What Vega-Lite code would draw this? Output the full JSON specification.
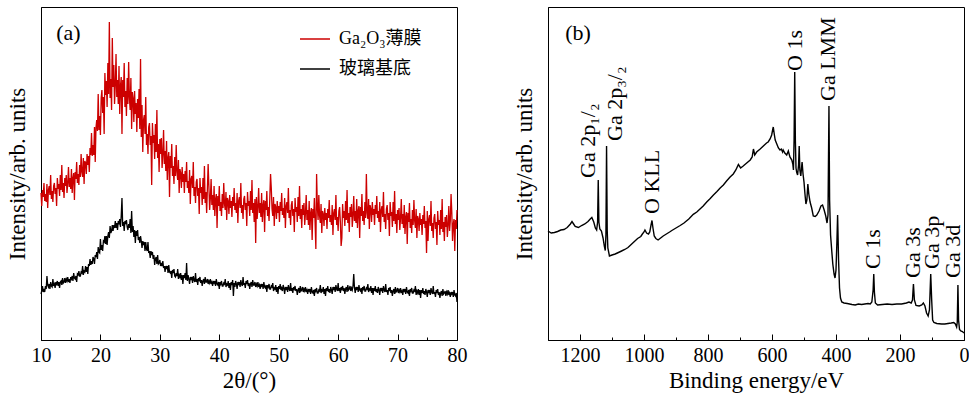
{
"$schema": "https://vega.github.io/schema/vega-lite/v6.json",
"padding": {"left": 5, "top": 6, "right": 0, "bottom": 0},
"spacing": 44,
"config": {
 "view": {"stroke": "#000", "strokeWidth": 1},
 "axis": {"labelFont": "Liberation Serif", "titleFont": "Liberation Serif", "labelFontSize": 20, "titleFontSize": 23, "titleFontWeight": "normal", "labelColor": "#000", "titleColor": "#000", "domainColor": "#000", "tickColor": "#000", "grid": false, "labelFlush": false, "labelOverlap": false}
},
"hconcat": [
{
 "width": 416, "height": 333,
 "encoding": {
  "x": {"field": "t", "type": "quantitative", "scale": {"domain": [10, 80], "nice": false, "zero": false},
   "axis": {"title": "2θ/(°)", "labelFont": "Liberation Serif", "labelFontSize": 20, "titleFont": "Liberation Serif", "titleFontSize": 23, "values": [10,15,20,25,30,35,40,45,50,55,60,65,70,75,80], "format": "d", "labelExpr": "datum.value % 10 === 0 ? datum.label : ''", "tickSize": {"condition": {"test": "datum.value % 10 === 0", "value": -6}, "value": -3}, "labelPadding": 11, "titlePadding": 1}},
  "y": {"field": "v", "type": "quantitative", "scale": {"domain": [0, 333], "nice": false, "zero": false},
   "axis": {"title": "Intensity/arb. units", "titleFont": "Liberation Serif", "titleFontSize": 23, "labels": false, "ticks": false, "titlePadding": 12}}
 },
 "layer": [
  {
   "data": {"values": [
{"t":10,"f":147,"g":46},{"t":10.125,"f":134,"g":49},{"t":10.25,"f":150,"g":54},{"t":10.375,"f":143,"g":48},{"t":10.5,"f":157,"g":51},{"t":10.625,"f":139,"g":48},{"t":10.75,"f":146,"g":54},{"t":10.875,"f":138,"g":51},
{"t":11,"f":156,"g":64},{"t":11.125,"f":132,"g":55},{"t":11.25,"f":150,"g":53},{"t":11.375,"f":154,"g":56},{"t":11.5,"f":145,"g":51},{"t":11.625,"f":165,"g":58},{"t":11.75,"f":141,"g":54},{"t":11.875,"f":149,"g":53},
{"t":12,"f":138,"g":61},{"t":12.125,"f":154,"g":54},{"t":12.25,"f":157,"g":56},{"t":12.375,"f":146,"g":52},{"t":12.5,"f":152,"g":58},{"t":12.625,"f":134,"g":56},{"t":12.75,"f":162,"g":59},{"t":12.875,"f":151,"g":54},
{"t":13,"f":156,"g":58},{"t":13.125,"f":144,"g":52},{"t":13.25,"f":165,"g":58},{"t":13.375,"f":150,"g":59},{"t":13.5,"f":175,"g":55},{"t":13.625,"f":148,"g":62},{"t":13.75,"f":157,"g":57},{"t":13.875,"f":142,"g":58},
{"t":14,"f":162,"g":62},{"t":14.125,"f":154,"g":57},{"t":14.25,"f":165,"g":61},{"t":14.375,"f":147,"g":59},{"t":14.5,"f":157,"g":63},{"t":14.625,"f":173,"g":58},{"t":14.75,"f":153,"g":61},{"t":14.875,"f":162,"g":57},
{"t":15,"f":151,"g":63},{"t":15.125,"f":171,"g":61},{"t":15.25,"f":147,"g":64},{"t":15.375,"f":162,"g":59},{"t":15.5,"f":167,"g":67},{"t":15.625,"f":140,"g":62},{"t":15.75,"f":168,"g":61},{"t":15.875,"f":161,"g":64},
{"t":16,"f":178,"g":58},{"t":16.125,"f":157,"g":66},{"t":16.25,"f":166,"g":65},{"t":16.375,"f":155,"g":69},{"t":16.5,"f":175,"g":64},{"t":16.625,"f":163,"g":64},{"t":16.75,"f":186,"g":68},{"t":16.875,"f":168,"g":67},
{"t":17,"f":163,"g":74},{"t":17.125,"f":182,"g":65},{"t":17.25,"f":156,"g":69},{"t":17.375,"f":179,"g":68},{"t":17.5,"f":177,"g":74},{"t":17.625,"f":166,"g":68},{"t":17.75,"f":186,"g":73},{"t":17.875,"f":175,"g":66},
{"t":18,"f":184,"g":76},{"t":18.125,"f":168,"g":74},{"t":18.25,"f":192,"g":81},{"t":18.375,"f":185,"g":75},{"t":18.5,"f":207,"g":79},{"t":18.625,"f":184,"g":76},{"t":18.75,"f":195,"g":83},{"t":18.875,"f":185,"g":81},
{"t":19,"f":213,"g":76},{"t":19.125,"f":178,"g":85},{"t":19.25,"f":212,"g":83},{"t":19.375,"f":220,"g":88},{"t":19.5,"f":209,"g":81},{"t":19.625,"f":246,"g":93},{"t":19.75,"f":210,"g":88},{"t":19.875,"f":224,"g":87},
{"t":20,"f":205,"g":101},{"t":20.125,"f":242,"g":90},{"t":20.25,"f":250,"g":95},{"t":20.375,"f":227,"g":89},{"t":20.5,"f":243,"g":99},{"t":20.625,"f":206,"g":98},{"t":20.75,"f":267,"g":104},{"t":20.875,"f":245,"g":96},
{"t":21,"f":259,"g":104},{"t":21.125,"f":233,"g":95},{"t":21.25,"f":277,"g":104},{"t":21.375,"f":246,"g":108},{"t":21.5,"f":318,"g":102},{"t":21.625,"f":242,"g":114},{"t":21.75,"f":261,"g":107},{"t":21.875,"f":230,"g":109},
{"t":22,"f":302,"g":115},{"t":22.125,"f":253,"g":109},{"t":22.25,"f":275,"g":115},{"t":22.375,"f":236,"g":112},{"t":22.5,"f":255,"g":119},{"t":22.625,"f":286,"g":112},{"t":22.75,"f":243,"g":117},{"t":22.875,"f":260,"g":110},
{"t":23,"f":236,"g":119},{"t":23.125,"f":274,"g":117},{"t":23.25,"f":226,"g":121},{"t":23.375,"f":254,"g":113},{"t":23.5,"f":263,"g":124},{"t":23.625,"f":206,"g":142},{"t":23.75,"f":260,"g":114},{"t":23.875,"f":243,"g":118},
{"t":24,"f":277,"g":109},{"t":24.125,"f":233,"g":119},{"t":24.25,"f":249,"g":116},{"t":24.375,"f":224,"g":120},{"t":24.5,"f":262,"g":113},{"t":24.625,"f":236,"g":110},{"t":24.75,"f":278,"g":116},{"t":24.875,"f":242,"g":112},
{"t":25,"f":230,"g":121},{"t":25.125,"f":262,"g":107},{"t":25.25,"f":211,"g":129},{"t":25.375,"f":248,"g":108},{"t":25.5,"f":242,"g":114},{"t":25.625,"f":218,"g":103},{"t":25.75,"f":249,"g":110},{"t":25.875,"f":226,"g":97},
{"t":26,"f":237,"g":109},{"t":26.125,"f":208,"g":104},{"t":26.25,"f":241,"g":110},{"t":26.375,"f":222,"g":100},{"t":26.5,"f":251,"g":103},{"t":26.625,"f":211,"g":97},{"t":26.75,"f":281,"g":104},{"t":26.875,"f":203,"g":99},
{"t":27,"f":235,"g":92},{"t":27.125,"f":188,"g":99},{"t":27.25,"f":220,"g":95},{"t":27.375,"f":225,"g":98},{"t":27.5,"f":206,"g":89},{"t":27.625,"f":243,"g":98},{"t":27.75,"f":195,"g":91},{"t":27.875,"f":206,"g":89},
{"t":28,"f":186,"g":98},{"t":28.125,"f":213,"g":87},{"t":28.25,"f":217,"g":89},{"t":28.375,"f":195,"g":82},{"t":28.5,"f":204,"g":89},{"t":28.625,"f":155,"g":85},{"t":28.75,"f":217,"g":88},{"t":28.875,"f":197,"g":81},
{"t":29,"f":205,"g":85},{"t":29.125,"f":181,"g":75},{"t":29.25,"f":216,"g":81},{"t":29.375,"f":188,"g":83},{"t":29.5,"f":230,"g":76},{"t":29.625,"f":182,"g":85},{"t":29.75,"f":196,"g":76},{"t":29.875,"f":168,"g":77},
{"t":30,"f":201,"g":80},{"t":30.125,"f":186,"g":74},{"t":30.25,"f":202,"g":77},{"t":30.375,"f":172,"g":74},{"t":30.5,"f":186,"g":79},{"t":30.625,"f":210,"g":72},{"t":30.75,"f":176,"g":74},{"t":30.875,"f":189,"g":68},
{"t":31,"f":169,"g":74},{"t":31.125,"f":199,"g":71},{"t":31.25,"f":160,"g":74},{"t":31.375,"f":182,"g":67},{"t":31.5,"f":188,"g":75},{"t":31.625,"f":143,"g":68},{"t":31.75,"f":184,"g":67},{"t":31.875,"f":172,"g":69},
{"t":32,"f":196,"g":62},{"t":32.125,"f":164,"g":70},{"t":32.25,"f":174,"g":67},{"t":32.375,"f":156,"g":71},{"t":32.5,"f":183,"g":64},{"t":32.625,"f":164,"g":63},{"t":32.75,"f":195,"g":67},{"t":32.875,"f":168,"g":64},
{"t":33,"f":160,"g":71},{"t":33.125,"f":180,"g":61},{"t":33.25,"f":147,"g":65},{"t":33.375,"f":171,"g":63},{"t":33.5,"f":167,"g":67},{"t":33.625,"f":152,"g":60},{"t":33.75,"f":173,"g":65},{"t":33.875,"f":158,"g":56},
{"t":34,"f":166,"g":65},{"t":34.125,"f":147,"g":62},{"t":34.25,"f":169,"g":67},{"t":34.375,"f":158,"g":60},{"t":34.5,"f":178,"g":77},{"t":34.625,"f":152,"g":59},{"t":34.75,"f":159,"g":65},{"t":34.875,"f":147,"g":61},
{"t":35,"f":170,"g":56},{"t":35.125,"f":136,"g":63},{"t":35.25,"f":161,"g":60},{"t":35.375,"f":164,"g":63},{"t":35.5,"f":152,"g":57},{"t":35.625,"f":178,"g":64},{"t":35.75,"f":144,"g":60},{"t":35.875,"f":153,"g":58},
{"t":36,"f":137,"g":67},{"t":36.125,"f":158,"g":58},{"t":36.25,"f":161,"g":61},{"t":36.375,"f":144,"g":55},{"t":36.5,"f":152,"g":62},{"t":36.625,"f":126,"g":60},{"t":36.75,"f":162,"g":63},{"t":36.875,"f":147,"g":57},
{"t":37,"f":153,"g":60},{"t":37.125,"f":135,"g":54},{"t":37.25,"f":162,"g":59},{"t":37.375,"f":141,"g":61},{"t":37.5,"f":174,"g":56},{"t":37.625,"f":137,"g":63},{"t":37.75,"f":148,"g":58},{"t":37.875,"f":127,"g":58},
{"t":38,"f":152,"g":61},{"t":38.125,"f":176,"g":56},{"t":38.25,"f":154,"g":59},{"t":38.375,"f":130,"g":57},{"t":38.5,"f":142,"g":61},{"t":38.625,"f":161,"g":56},{"t":38.75,"f":135,"g":58},{"t":38.875,"f":145,"g":54},
{"t":39,"f":130,"g":59},{"t":39.125,"f":154,"g":57},{"t":39.25,"f":124,"g":59},{"t":39.375,"f":141,"g":54},{"t":39.5,"f":146,"g":61},{"t":39.625,"f":112,"g":56},{"t":39.75,"f":144,"g":55},{"t":39.875,"f":134,"g":58},
{"t":40,"f":154,"g":51},{"t":40.125,"f":129,"g":58},{"t":40.25,"f":138,"g":56},{"t":40.375,"f":124,"g":59},{"t":40.5,"f":146,"g":54},{"t":40.625,"f":132,"g":54},{"t":40.75,"f":157,"g":57},{"t":40.875,"f":136,"g":56},
{"t":41,"f":130,"g":61},{"t":41.125,"f":148,"g":53},{"t":41.25,"f":120,"g":56},{"t":41.375,"f":142,"g":55},{"t":41.5,"f":139,"g":59},{"t":41.625,"f":126,"g":52},{"t":41.75,"f":145,"g":57},{"t":41.875,"f":132,"g":50},
{"t":42,"f":139,"g":58},{"t":42.125,"f":123,"g":55},{"t":42.25,"f":143,"g":60},{"t":42.375,"f":134,"g":44},{"t":42.5,"f":152,"g":57},{"t":42.625,"f":130,"g":53},{"t":42.75,"f":137,"g":59},{"t":42.875,"f":127,"g":56},
{"t":43,"f":147,"g":51},{"t":43.125,"f":117,"g":58},{"t":43.25,"f":139,"g":55},{"t":43.375,"f":143,"g":58},{"t":43.5,"f":132,"g":53},{"t":43.625,"f":157,"g":60},{"t":43.75,"f":127,"g":56},{"t":43.875,"f":135,"g":54},
{"t":44,"f":121,"g":63},{"t":44.125,"f":141,"g":55},{"t":44.25,"f":144,"g":57},{"t":44.375,"f":130,"g":52},{"t":44.5,"f":137,"g":59},{"t":44.625,"f":114,"g":56},{"t":44.75,"f":148,"g":60},{"t":44.875,"f":134,"g":54},
{"t":45,"f":139,"g":57},{"t":45.125,"f":124,"g":51},{"t":45.25,"f":149,"g":56},{"t":45.375,"f":130,"g":58},{"t":45.5,"f":160,"g":53},{"t":45.625,"f":127,"g":60},{"t":45.75,"f":137,"g":55},{"t":45.875,"f":118,"g":55},
{"t":46,"f":141,"g":58},{"t":46.125,"f":97,"g":53},{"t":46.25,"f":143,"g":56},{"t":46.375,"f":121,"g":54},{"t":46.5,"f":133,"g":58},{"t":46.625,"f":152,"g":53},{"t":46.75,"f":127,"g":55},{"t":46.875,"f":137,"g":51},
{"t":47,"f":123,"g":56},{"t":47.125,"f":147,"g":54},{"t":47.25,"f":118,"g":56},{"t":47.375,"f":135,"g":51},{"t":47.5,"f":140,"g":58},{"t":47.625,"f":108,"g":53},{"t":47.75,"f":139,"g":52},{"t":47.875,"f":130,"g":55},
{"t":48,"f":149,"g":48},{"t":48.125,"f":124,"g":55},{"t":48.25,"f":133,"g":53},{"t":48.375,"f":119,"g":56},{"t":48.5,"f":142,"g":51},{"t":48.625,"f":166,"g":51},{"t":48.75,"f":152,"g":54},{"t":48.875,"f":131,"g":53},
{"t":49,"f":124,"g":57},{"t":49.125,"f":143,"g":49},{"t":49.25,"f":114,"g":52},{"t":49.375,"f":136,"g":51},{"t":49.5,"f":133,"g":55},{"t":49.625,"f":121,"g":48},{"t":49.75,"f":139,"g":53},{"t":49.875,"f":127,"g":46},
{"t":50,"f":134,"g":54},{"t":50.125,"f":118,"g":51},{"t":50.25,"f":138,"g":56},{"t":50.375,"f":129,"g":50},{"t":50.5,"f":147,"g":52},{"t":50.625,"f":125,"g":49},{"t":50.75,"f":132,"g":55},{"t":50.875,"f":122,"g":52},
{"t":51,"f":142,"g":46},{"t":51.125,"f":112,"g":53},{"t":51.25,"f":134,"g":50},{"t":51.375,"f":138,"g":53},{"t":51.5,"f":127,"g":48},{"t":51.625,"f":152,"g":55},{"t":51.75,"f":122,"g":51},{"t":51.875,"f":130,"g":49},
{"t":52,"f":115,"g":57},{"t":52.125,"f":135,"g":49},{"t":52.25,"f":139,"g":52},{"t":52.375,"f":124,"g":47},{"t":52.5,"f":131,"g":53},{"t":52.625,"f":108,"g":51},{"t":52.75,"f":142,"g":54},{"t":52.875,"f":128,"g":49},
{"t":53,"f":133,"g":51},{"t":53.125,"f":118,"g":45},{"t":53.25,"f":143,"g":50},{"t":53.375,"f":124,"g":52},{"t":53.5,"f":154,"g":47},{"t":53.625,"f":121,"g":54},{"t":53.75,"f":131,"g":49},{"t":53.875,"f":112,"g":50},
{"t":54,"f":135,"g":53},{"t":54.125,"f":125,"g":48},{"t":54.25,"f":137,"g":51},{"t":54.375,"f":115,"g":49},{"t":54.5,"f":127,"g":53},{"t":54.625,"f":145,"g":48},{"t":54.75,"f":120,"g":50},{"t":54.875,"f":130,"g":46},
{"t":55,"f":115,"g":51},{"t":55.125,"f":139,"g":49},{"t":55.25,"f":110,"g":51},{"t":55.375,"f":127,"g":46},{"t":55.5,"f":132,"g":53},{"t":55.625,"f":100,"g":48},{"t":55.75,"f":131,"g":47},{"t":55.875,"f":122,"g":50},
{"t":56,"f":142,"g":44},{"t":56.125,"f":117,"g":51},{"t":56.25,"f":91,"g":49},{"t":56.375,"f":166,"g":52},{"t":56.5,"f":134,"g":47},{"t":56.625,"f":120,"g":47},{"t":56.75,"f":145,"g":50},{"t":56.875,"f":124,"g":49},
{"t":57,"f":117,"g":55},{"t":57.125,"f":136,"g":47},{"t":57.25,"f":107,"g":50},{"t":57.375,"f":129,"g":49},{"t":57.5,"f":126,"g":53},{"t":57.625,"f":114,"g":46},{"t":57.75,"f":132,"g":51},{"t":57.875,"f":120,"g":44},
{"t":58,"f":127,"g":52},{"t":58.125,"f":111,"g":49},{"t":58.25,"f":131,"g":54},{"t":58.375,"f":122,"g":48},{"t":58.5,"f":140,"g":51},{"t":58.625,"f":118,"g":47},{"t":58.75,"f":125,"g":53},{"t":58.875,"f":115,"g":50},
{"t":59,"f":135,"g":46},{"t":59.125,"f":105,"g":53},{"t":59.25,"f":127,"g":50},{"t":59.375,"f":131,"g":53},{"t":59.5,"f":120,"g":48},{"t":59.625,"f":145,"g":55},{"t":59.75,"f":115,"g":51},{"t":59.875,"f":123,"g":49},
{"t":60,"f":109,"g":57},{"t":60.125,"f":129,"g":49},{"t":60.25,"f":133,"g":52},{"t":60.375,"f":118,"g":47},{"t":60.5,"f":94,"g":53},{"t":60.625,"f":102,"g":51},{"t":60.75,"f":136,"g":54},{"t":60.875,"f":122,"g":49},
{"t":61,"f":129,"g":52},{"t":61.125,"f":114,"g":46},{"t":61.25,"f":139,"g":51},{"t":61.375,"f":120,"g":53},{"t":61.5,"f":150,"g":48},{"t":61.625,"f":117,"g":55},{"t":61.75,"f":127,"g":50},{"t":61.875,"f":108,"g":51},
{"t":62,"f":133,"g":54},{"t":62.125,"f":123,"g":49},{"t":62.25,"f":136,"g":52},{"t":62.375,"f":113,"g":50},{"t":62.5,"f":125,"g":54},{"t":62.625,"f":144,"g":66},{"t":62.75,"f":119,"g":52},{"t":62.875,"f":129,"g":47},
{"t":63,"f":117,"g":53},{"t":63.125,"f":141,"g":51},{"t":63.25,"f":112,"g":53},{"t":63.375,"f":129,"g":48},{"t":63.5,"f":134,"g":55},{"t":63.625,"f":102,"g":50},{"t":63.75,"f":133,"g":49},{"t":63.875,"f":124,"g":52},
{"t":64,"f":146,"g":46},{"t":64.125,"f":119,"g":53},{"t":64.25,"f":129,"g":51},{"t":64.375,"f":115,"g":54},{"t":64.5,"f":138,"g":49},{"t":64.625,"f":122,"g":49},{"t":64.75,"f":166,"g":52},{"t":64.875,"f":127,"g":51},
{"t":65,"f":121,"g":56},{"t":65.125,"f":141,"g":48},{"t":65.25,"f":111,"g":51},{"t":65.375,"f":135,"g":50},{"t":65.5,"f":131,"g":54},{"t":65.625,"f":118,"g":47},{"t":65.75,"f":138,"g":52},{"t":65.875,"f":125,"g":45},
{"t":66,"f":131,"g":52},{"t":66.125,"f":115,"g":49},{"t":66.25,"f":135,"g":54},{"t":66.375,"f":126,"g":48},{"t":66.5,"f":144,"g":51},{"t":66.625,"f":122,"g":47},{"t":66.75,"f":129,"g":53},{"t":66.875,"f":118,"g":50},
{"t":67,"f":138,"g":45},{"t":67.125,"f":108,"g":52},{"t":67.25,"f":130,"g":49},{"t":67.375,"f":134,"g":52},{"t":67.5,"f":123,"g":47},{"t":67.625,"f":148,"g":54},{"t":67.75,"f":118,"g":50},{"t":67.875,"f":126,"g":48},
{"t":68,"f":111,"g":56},{"t":68.125,"f":131,"g":48},{"t":68.25,"f":135,"g":50},{"t":68.375,"f":120,"g":45},{"t":68.5,"f":127,"g":52},{"t":68.625,"f":104,"g":49},{"t":68.75,"f":138,"g":53},{"t":68.875,"f":124,"g":47},
{"t":69,"f":128,"g":50},{"t":69.125,"f":113,"g":44},{"t":69.25,"f":138,"g":49},{"t":69.375,"f":119,"g":51},{"t":69.5,"f":149,"g":46},{"t":69.625,"f":116,"g":53},{"t":69.75,"f":126,"g":48},{"t":69.875,"f":107,"g":49},
{"t":70,"f":130,"g":52},{"t":70.125,"f":120,"g":47},{"t":70.25,"f":132,"g":50},{"t":70.375,"f":110,"g":48},{"t":70.5,"f":122,"g":52},{"t":70.625,"f":141,"g":47},{"t":70.75,"f":116,"g":49},{"t":70.875,"f":126,"g":45},
{"t":71,"f":112,"g":51},{"t":71.125,"f":135,"g":49},{"t":71.25,"f":106,"g":51},{"t":71.375,"f":123,"g":46},{"t":71.5,"f":128,"g":53},{"t":71.625,"f":96,"g":48},{"t":71.75,"f":127,"g":47},{"t":71.875,"f":118,"g":50},
{"t":72,"f":137,"g":44},{"t":72.125,"f":112,"g":51},{"t":72.25,"f":121,"g":49},{"t":72.375,"f":107,"g":52},{"t":72.5,"f":130,"g":47},{"t":72.625,"f":115,"g":47},{"t":72.75,"f":140,"g":50},{"t":72.875,"f":119,"g":49},
{"t":73,"f":112,"g":54},{"t":73.125,"f":131,"g":45},{"t":73.25,"f":102,"g":49},{"t":73.375,"f":124,"g":47},{"t":73.5,"f":121,"g":51},{"t":73.625,"f":109,"g":45},{"t":73.75,"f":127,"g":50},{"t":73.875,"f":115,"g":42},
{"t":74,"f":121,"g":50},{"t":74.125,"f":105,"g":47},{"t":74.25,"f":125,"g":52},{"t":74.375,"f":116,"g":46},{"t":74.5,"f":134,"g":49},{"t":74.625,"f":112,"g":45},{"t":74.75,"f":119,"g":51},{"t":74.875,"f":87,"g":48},
{"t":75,"f":129,"g":43},{"t":75.125,"f":99,"g":50},{"t":75.25,"f":121,"g":47},{"t":75.375,"f":125,"g":50},{"t":75.5,"f":114,"g":45},{"t":75.625,"f":139,"g":52},{"t":75.75,"f":109,"g":48},{"t":75.875,"f":117,"g":46},
{"t":76,"f":102,"g":54},{"t":76.125,"f":122,"g":46},{"t":76.25,"f":126,"g":48},{"t":76.375,"f":111,"g":43},{"t":76.5,"f":118,"g":50},{"t":76.625,"f":95,"g":47},{"t":76.75,"f":129,"g":51},{"t":76.875,"f":115,"g":45},
{"t":77,"f":120,"g":48},{"t":77.125,"f":105,"g":42},{"t":77.25,"f":130,"g":47},{"t":77.375,"f":111,"g":49},{"t":77.5,"f":141,"g":44},{"t":77.625,"f":108,"g":51},{"t":77.75,"f":118,"g":46},{"t":77.875,"f":99,"g":47},
{"t":78,"f":123,"g":49},{"t":78.125,"f":113,"g":44},{"t":78.25,"f":125,"g":48},{"t":78.375,"f":103,"g":46},{"t":78.5,"f":115,"g":50},{"t":78.625,"f":134,"g":45},{"t":78.75,"f":109,"g":47},{"t":78.875,"f":119,"g":43},
{"t":79,"f":146,"g":48},{"t":79.125,"f":128,"g":46},{"t":79.25,"f":99,"g":48},{"t":79.375,"f":116,"g":43},{"t":79.5,"f":121,"g":50},{"t":79.625,"f":89,"g":45},{"t":79.75,"f":120,"g":44},{"t":79.875,"f":111,"g":47},
{"t":80,"f":130,"g":38}
   ]},
   "transform": [{"fold": ["f", "g"], "as": ["series", "v"]}],
   "mark": {"type": "line", "strokeWidth": 1.3},
   "encoding": {
    "color": {"field": "series", "type": "nominal", "scale": {"domain": ["f", "g"], "range": ["#cc0000", "#000000"]},
     "legend": {"orient": "none", "legendX": 258, "legendY": 16, "title": null, "padding": 0, "symbolType": "stroke", "symbolSize": 900, "symbolStrokeWidth": 1.5, "labelFont": "Liberation Serif, Noto Sans CJK SC", "labelFontSize": 18, "labelColor": "#000", "rowPadding": 5, "labelOffset": 8, "labelExpr": "datum.label == 'f' ? 'Ga₂O₃薄膜' : '玻璃基底'"}}
   }
  },
  {
   "data": {"values": [{"t": 14.6, "v": 307, "label": "(a)"}]},
   "mark": {"type": "text", "font": "Liberation Serif", "fontSize": 22, "align": "center", "baseline": "middle", "color": "#000"},
   "encoding": {"text": {"field": "label"}}
  }
 ]
},
{
 "width": 416, "height": 333,
 "encoding": {
  "x": {"field": "e", "type": "quantitative", "scale": {"domain": [1300, 0], "nice": false, "zero": false},
   "axis": {"title": "Binding energy/eV", "labelFont": "Liberation Serif", "labelFontSize": 20, "titleFont": "Liberation Serif", "titleFontSize": 23, "values": [0,100,200,300,400,500,600,700,800,900,1000,1100,1200], "format": "d", "labelExpr": "datum.value % 200 === 0 ? datum.label : ''", "tickSize": {"condition": {"test": "datum.value % 200 === 0", "value": -6}, "value": -3}, "labelPadding": 11, "titlePadding": 1}},
  "y": {"field": "v", "type": "quantitative", "scale": {"domain": [0, 333], "nice": false, "zero": false},
   "axis": {"title": "Intensity/arb. units", "titleFont": "Liberation Serif", "titleFontSize": 23, "labels": false, "ticks": false, "titlePadding": 12}}
 },
 "layer": [
  {
   "data": {"values": [
{"e":1300,"v":109},{"e":1290,"v":107},{"e":1280,"v":107.5},{"e":1270,"v":108.5},{"e":1260,"v":110},{"e":1250,"v":110.5},{"e":1240,"v":112.5},{"e":1230,"v":116},{"e":1225,"v":118.5},{"e":1220,"v":116},{"e":1215,"v":113.5},{"e":1205,"v":112.5},{"e":1195,"v":114.5},{"e":1185,"v":116},{"e":1175,"v":118.5},{"e":1168,"v":121},{"e":1163,"v":122.5},{"e":1157,"v":118},{"e":1152,"v":112},{"e":1148,"v":110},{"e":1145,"v":118},{"e":1143,"v":160},{"e":1141,"v":118},{"e":1138,"v":111},{"e":1133,"v":109},{"e":1128,"v":102},{"e":1124,"v":94},{"e":1121,"v":89.5},{"e":1119,"v":105},{"e":1117,"v":194},{"e":1115,"v":110},{"e":1113,"v":92},{"e":1108,"v":84},{"e":1100,"v":85},{"e":1090,"v":86},{"e":1080,"v":87.5},{"e":1070,"v":89},{"e":1060,"v":90.5},{"e":1050,"v":92.5},{"e":1040,"v":95.5},{"e":1030,"v":98.5},{"e":1020,"v":101.5},{"e":1010,"v":103.5},{"e":1005,"v":106},{"e":1000,"v":108},{"e":997,"v":110},{"e":992,"v":107},{"e":986,"v":106},{"e":982,"v":108},{"e":978,"v":115},{"e":975,"v":119.5},{"e":972,"v":112},{"e":968,"v":104},{"e":963,"v":101.5},{"e":956,"v":100},{"e":950,"v":101.5},{"e":940,"v":104},{"e":930,"v":106},{"e":920,"v":108},{"e":913,"v":109.5},{"e":900,"v":112},{"e":887,"v":114.5},{"e":875,"v":117},{"e":860,"v":121},{"e":846,"v":125.7},{"e":835,"v":128},{"e":825,"v":131},{"e":815,"v":134},{"e":804,"v":138},{"e":793,"v":141.5},{"e":783,"v":145},{"e":772,"v":148.5},{"e":762,"v":152},{"e":752,"v":155},{"e":742,"v":159},{"e":731,"v":163},{"e":721,"v":166},{"e":713,"v":170},{"e":705,"v":175.5},{"e":698,"v":172},{"e":690,"v":174},{"e":679,"v":177},{"e":668,"v":180},{"e":662,"v":183},{"e":658,"v":191},{"e":654,"v":185},{"e":648,"v":188},{"e":637,"v":191},{"e":627,"v":194},{"e":617,"v":197},{"e":612,"v":198},{"e":606,"v":201},{"e":601,"v":205},{"e":598,"v":210},{"e":596,"v":213},{"e":593,"v":206},{"e":590,"v":200},{"e":585,"v":196},{"e":580,"v":192},{"e":575,"v":190},{"e":571,"v":191},{"e":567,"v":188},{"e":565,"v":190},{"e":560,"v":187},{"e":554,"v":185},{"e":549,"v":189},{"e":544,"v":183},{"e":538,"v":180},{"e":535,"v":176},{"e":533,"v":170},{"e":531,"v":200},{"e":529,"v":268},{"e":527,"v":200},{"e":525,"v":172},{"e":523,"v":168},{"e":520,"v":165},{"e":517,"v":175},{"e":515,"v":194},{"e":513,"v":170},{"e":510,"v":164},{"e":506,"v":178},{"e":503,"v":166},{"e":500,"v":158},{"e":497,"v":146},{"e":494,"v":136},{"e":491,"v":140},{"e":488,"v":156},{"e":485,"v":146},{"e":481,"v":138},{"e":476,"v":132},{"e":471,"v":124},{"e":465,"v":123.5},{"e":460,"v":125},{"e":453,"v":129},{"e":447,"v":134},{"e":442,"v":135},{"e":437,"v":130},{"e":432,"v":124},{"e":428,"v":117},{"e":425,"v":125},{"e":422,"v":234},{"e":420,"v":140},{"e":417,"v":105},{"e":413,"v":88},{"e":410,"v":76},{"e":406,"v":66},{"e":403,"v":62},{"e":400,"v":70},{"e":397,"v":100},{"e":395,"v":125},{"e":392,"v":80},{"e":389,"v":52},{"e":386,"v":42},{"e":382,"v":38},{"e":375,"v":37},{"e":365,"v":36.5},{"e":350,"v":35.5},{"e":340,"v":35},{"e":330,"v":36},{"e":320,"v":35.5},{"e":310,"v":36},{"e":300,"v":36.5},{"e":293,"v":36},{"e":288,"v":38},{"e":284,"v":50},{"e":282,"v":66},{"e":280,"v":48},{"e":277,"v":37},{"e":270,"v":35},{"e":255,"v":35.5},{"e":240,"v":36},{"e":225,"v":35.5},{"e":210,"v":36},{"e":195,"v":36},{"e":180,"v":37},{"e":172,"v":38},{"e":165,"v":37},{"e":161,"v":40},{"e":158,"v":56},{"e":155,"v":40},{"e":150,"v":34.5},{"e":140,"v":34},{"e":132,"v":35},{"e":127,"v":37},{"e":122,"v":34},{"e":117,"v":27},{"e":112,"v":24},{"e":108,"v":30},{"e":104,"v":66},{"e":101,"v":40},{"e":98,"v":20},{"e":94,"v":17.5},{"e":85,"v":16.5},{"e":70,"v":16},{"e":60,"v":16},{"e":50,"v":16.5},{"e":40,"v":17},{"e":32,"v":17.5},{"e":27,"v":16},{"e":23,"v":13},{"e":21,"v":18},{"e":19,"v":55},{"e":17,"v":20},{"e":14,"v":10.5},{"e":10,"v":9},{"e":5,"v":8.5},{"e":0,"v":7}
   ]},
   "mark": {"type": "line", "strokeWidth": 1.4, "color": "#000"},
   "encoding": {"order": {"field": "e", "type": "quantitative", "sort": "descending"}}
  },
  {
   "data": {"values": [{"e": 1206, "v": 307, "label": "(b)"}]},
   "mark": {"type": "text", "font": "Liberation Serif", "fontSize": 22, "align": "center", "baseline": "middle", "color": "#000"},
   "encoding": {"text": {"field": "label"}}
  },
  {
   "data": {"values": [
    {"e": 1175, "v": 162, "label": "Ga 2p₁/₂"},
    {"e": 1091, "v": 199, "label": "Ga 2p₃/₂"},
    {"e": 976, "v": 126, "label": "O KLL"},
    {"e": 528, "v": 269, "label": "O 1s"},
    {"e": 425, "v": 239, "label": "Ga LMM"},
    {"e": 284, "v": 71, "label": "C 1s"},
    {"e": 159, "v": 62, "label": "Ga 3s"},
    {"e": 101, "v": 71, "label": "Ga 3p"},
    {"e": 34, "v": 62, "label": "Ga 3d"}
   ]},
   "mark": {"type": "text", "angle": 270, "font": "Liberation Serif", "fontSize": 22, "align": "left", "baseline": "middle", "color": "#000"},
   "encoding": {"text": {"field": "label"}}
  }
 ]
}
]
}
